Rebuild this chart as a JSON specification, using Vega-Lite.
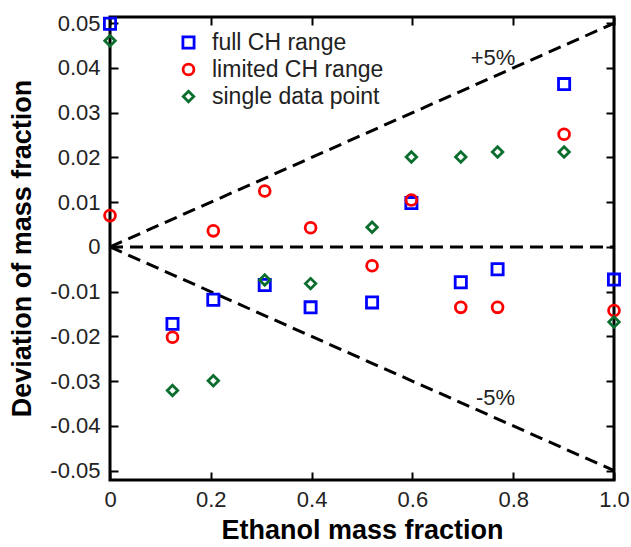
{
  "$schema": "https://vega.github.io/schema/vega-lite/v6.json",
  "autosize": {"type": "none"},
  "width": 504,
  "height": 463,
  "padding": {"left": 110, "top": 17, "right": 17, "bottom": 67},
  "background": "white",
  "config": {
    "view": {"stroke": "black", "strokeWidth": 3},
    "font": "Liberation Sans",
    "axis": {"grid": false, "domain": false, "labelFlush": false, "labelOverlap": false, "tickColor": "black", "tickWidth": 2, "tickSize": -8, "labelFont": "Liberation Sans", "labelFontSize": 22, "labelColor": "#222", "titleFont": "Liberation Sans", "titleFontSize": 27, "titleFontWeight": "bold", "titleColor": "black"},
    "legend": {"labelFont": "Liberation Sans", "labelFontSize": 23, "labelColor": "#222", "labelLimit": 400}
  },
  "datasets": {
    "lines": [
      {"x": 0, "y": 0, "l": "zero"}, {"x": 1, "y": 0, "l": "zero"},
      {"x": 0, "y": 0, "l": "plus"}, {"x": 1, "y": 0.05, "l": "plus"},
      {"x": 0, "y": 0, "l": "minus"}, {"x": 1, "y": -0.05, "l": "minus"}
    ],
    "points": [
      {"series": "full CH range", "x": 0, "y": 0.0499},
      {"series": "full CH range", "x": 0.124, "y": -0.0172},
      {"series": "full CH range", "x": 0.205, "y": -0.0118},
      {"series": "full CH range", "x": 0.307, "y": -0.0085},
      {"series": "full CH range", "x": 0.398, "y": -0.0135},
      {"series": "full CH range", "x": 0.52, "y": -0.0124},
      {"series": "full CH range", "x": 0.598, "y": 0.0098},
      {"series": "full CH range", "x": 0.696, "y": -0.0079},
      {"series": "full CH range", "x": 0.769, "y": -0.005},
      {"series": "full CH range", "x": 0.901, "y": 0.0364},
      {"series": "full CH range", "x": 1.0, "y": -0.0073},
      {"series": "limited CH range", "x": 0, "y": 0.007},
      {"series": "limited CH range", "x": 0.124, "y": -0.0202},
      {"series": "limited CH range", "x": 0.205, "y": 0.0036},
      {"series": "limited CH range", "x": 0.307, "y": 0.0125},
      {"series": "limited CH range", "x": 0.398, "y": 0.0043},
      {"series": "limited CH range", "x": 0.52, "y": -0.0042},
      {"series": "limited CH range", "x": 0.598, "y": 0.0105},
      {"series": "limited CH range", "x": 0.696, "y": -0.0135},
      {"series": "limited CH range", "x": 0.769, "y": -0.0135},
      {"series": "limited CH range", "x": 0.901, "y": 0.0252},
      {"series": "limited CH range", "x": 1.0, "y": -0.0142},
      {"series": "single data point", "x": 0, "y": 0.0461},
      {"series": "single data point", "x": 0.124, "y": -0.0321},
      {"series": "single data point", "x": 0.205, "y": -0.0299},
      {"series": "single data point", "x": 0.307, "y": -0.0074},
      {"series": "single data point", "x": 0.398, "y": -0.0082},
      {"series": "single data point", "x": 0.52, "y": 0.0044},
      {"series": "single data point", "x": 0.598, "y": 0.0201},
      {"series": "single data point", "x": 0.696, "y": 0.0201},
      {"series": "single data point", "x": 0.769, "y": 0.0212},
      {"series": "single data point", "x": 0.901, "y": 0.0212},
      {"series": "single data point", "x": 1.0, "y": -0.0168}
    ],
    "labels": [
      {"x": 0.76, "y": 0.0423, "t": "+5%"},
      {"x": 0.765, "y": -0.0337, "t": "-5%"}
    ]
  },
  "resolve": {"axis": {"x": "independent", "y": "independent"}},
  "layer": [
    {
      "data": {"name": "lines"},
      "mark": {"type": "line", "color": "black", "strokeWidth": 3, "strokeDash": [13, 7], "clip": false},
      "encoding": {
        "x": {"field": "x", "type": "quantitative", "scale": {"domain": [0, 1], "nice": false, "zero": false},
          "axis": {"orient": "bottom", "values": [0, 0.2, 0.4, 0.6, 0.8, 1.0], "labelExpr": "datum.value == 1 ? '1.0' : format(datum.value, '.1~f')", "labelPadding": 17, "title": "Ethanol mass fraction", "titleX": 252, "titleY": 50, "titleBaseline": "middle", "titleAnchor": "middle"}},
        "y": {"field": "y", "type": "quantitative", "scale": {"domain": [-0.0521, 0.0514], "nice": false, "zero": false},
          "axis": {"orient": "left", "values": [-0.05, -0.04, -0.03, -0.02, -0.01, 0, 0.01, 0.02, 0.03, 0.04, 0.05], "labelExpr": "replace(format(datum.value, '.2~f'), '\u2212', '-')", "labelPadding": 18, "title": "Deviation of mass fraction", "titleX": -88, "titleY": 231, "titleBaseline": "middle", "titleAnchor": "middle"}},
        "detail": {"field": "l"}
      }
    },
    {
      "data": {"name": "lines"},
      "mark": {"type": "point", "opacity": 0},
      "encoding": {
        "x": {"field": "x", "type": "quantitative", "axis": {"orient": "top", "values": [0, 0.2, 0.4, 0.6, 0.8, 1.0], "labels": false, "title": null}},
        "y": {"field": "y", "type": "quantitative", "axis": {"orient": "right", "values": [-0.05, -0.04, -0.03, -0.02, -0.01, 0, 0.01, 0.02, 0.03, 0.04, 0.05], "labels": false, "title": null}}
      }
    },
    {
      "data": {"name": "points"},
      "mark": {"type": "point", "filled": false, "strokeWidth": 2.8, "opacity": 1, "clip": false},
      "encoding": {
        "x": {"field": "x", "type": "quantitative", "axis": null},
        "y": {"field": "y", "type": "quantitative", "axis": null},
        "color": {"field": "series", "type": "nominal", "scale": {"domain": ["full CH range", "limited CH range", "single data point"], "range": ["#0000ff", "#ff0000", "#0b6e2e"]},
          "legend": {"orient": "none", "legendX": 67, "legendY": 14, "title": null, "symbolStrokeWidth": 2.8, "symbolSize": 115, "rowPadding": 3, "labelOffset": 12, "padding": 0}},
        "shape": {"field": "series", "type": "nominal", "scale": {"domain": ["full CH range", "limited CH range", "single data point"], "range": ["square", "circle", "diamond"]}},
        "size": {"field": "series", "type": "nominal", "scale": {"domain": ["full CH range", "limited CH range", "single data point"], "range": [125, 110, 150]}, "legend": null}
      }
    },
    {
      "data": {"name": "labels"},
      "mark": {"type": "text", "fontSize": 22, "color": "#222", "align": "center", "baseline": "middle"},
      "encoding": {
        "x": {"field": "x", "type": "quantitative", "axis": null},
        "y": {"field": "y", "type": "quantitative", "axis": null},
        "text": {"field": "t"}
      }
    }
  ]
}
